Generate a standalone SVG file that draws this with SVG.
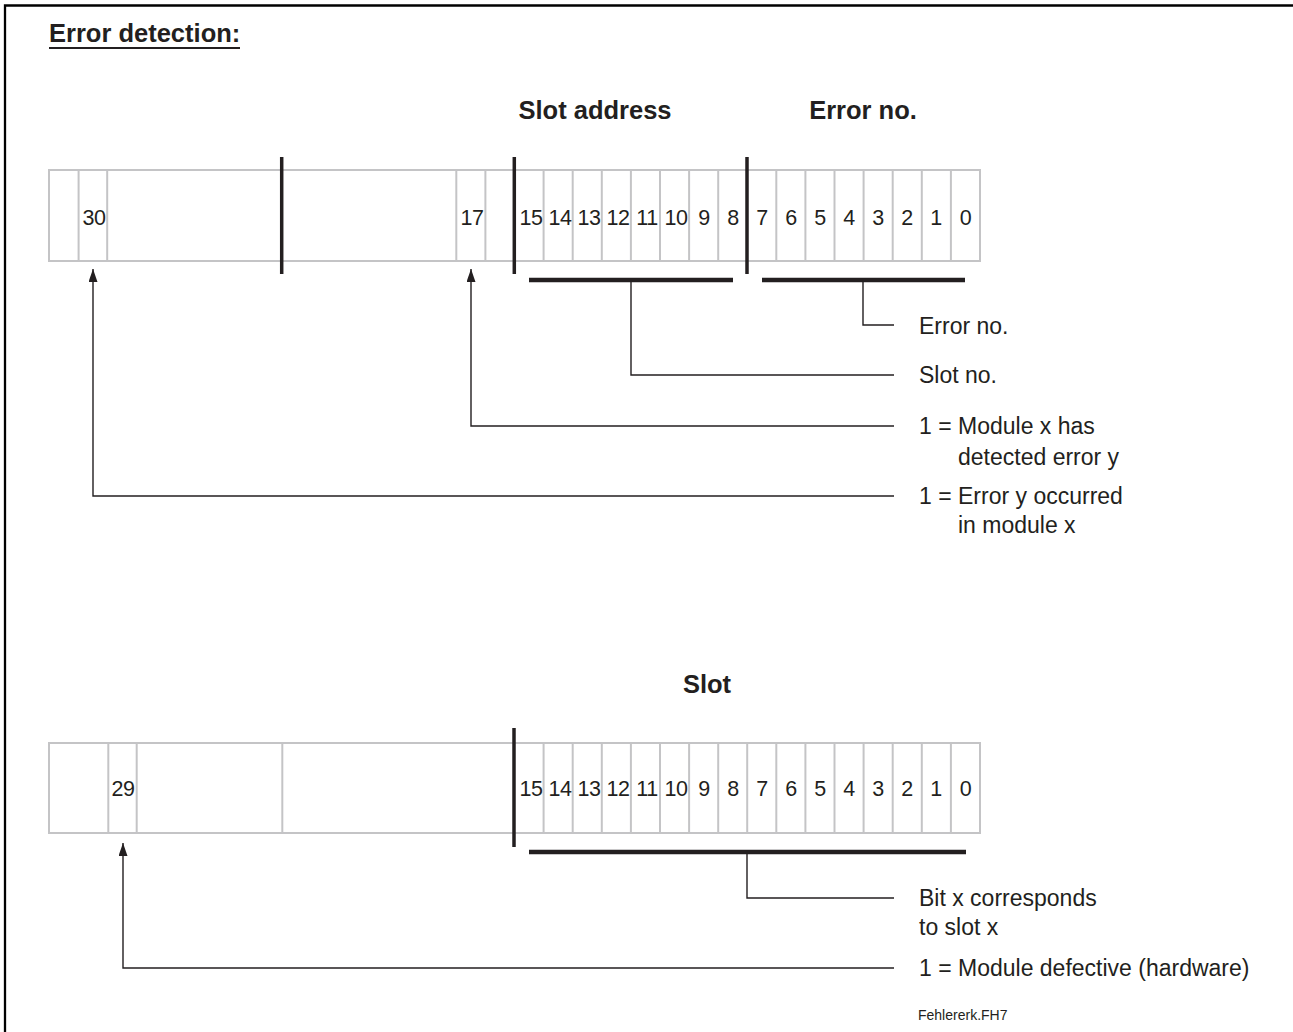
<svg xmlns="http://www.w3.org/2000/svg" width="1293" height="1032" viewBox="0 0 1293 1032">
<style>
  text { font-family: "Liberation Sans", Arial, Helvetica, sans-serif; fill: #231f20; }
  .title { font-size: 25.5px; font-weight: bold; }
  .head { font-size: 25.5px; font-weight: bold; text-anchor: middle; }
  .num { font-size: 21.5px; text-anchor: middle; letter-spacing: -0.5px; }
  .lbl { font-size: 23px; }
  .small { font-size: 14px; }
  .cell { fill: #ffffff; stroke: #c4c4c6; stroke-width: 2; }
  .div { stroke: #c4c4c6; stroke-width: 2; }
  .thick { stroke: #231f20; stroke-width: 3.5; }
  .bar { stroke: #231f20; stroke-width: 4.5; }
  .conn { fill: none; stroke: #231f20; stroke-width: 1.4; }
</style>
<defs>
  <marker id="arr" markerUnits="userSpaceOnUse" markerWidth="13" markerHeight="9" refX="13" refY="4.5" orient="auto">
    <path d="M0,0 L13,4.5 L0,9 z" fill="#231f20"/>
  </marker>
</defs>
<rect width="1293" height="1032" fill="#ffffff"/>
<path d="M5,1032 V5.5 H1293" fill="none" stroke="#000" stroke-width="2.3"/>

<g id="title">
  <text class="title" x="49" y="42">Error detection:</text>
  <line x1="49" y1="48" x2="240" y2="48" stroke="#231f20" stroke-width="2"/>
</g>

<g id="headings">
  <text class="head" x="595" y="119">Slot address</text>
  <text class="head" x="863" y="119">Error no.</text>
  <text class="head" x="707" y="693">Slot</text>
</g>

<g id="register-top">
  <rect class="cell" x="49" y="170" width="931" height="91"/>
  <g class="div">
    <line x1="950.9" y1="170" x2="950.9" y2="261"/>
    <line x1="921.8" y1="170" x2="921.8" y2="261"/>
    <line x1="892.7" y1="170" x2="892.7" y2="261"/>
    <line x1="863.6" y1="170" x2="863.6" y2="261"/>
    <line x1="834.5" y1="170" x2="834.5" y2="261"/>
    <line x1="805.4" y1="170" x2="805.4" y2="261"/>
    <line x1="776.3" y1="170" x2="776.3" y2="261"/>
    <line x1="718.2" y1="170" x2="718.2" y2="261"/>
    <line x1="689.1" y1="170" x2="689.1" y2="261"/>
    <line x1="660.0" y1="170" x2="660.0" y2="261"/>
    <line x1="630.9" y1="170" x2="630.9" y2="261"/>
    <line x1="601.8" y1="170" x2="601.8" y2="261"/>
    <line x1="572.7" y1="170" x2="572.7" y2="261"/>
    <line x1="543.6" y1="170" x2="543.6" y2="261"/>
    <line x1="485.4" y1="170" x2="485.4" y2="261"/>
    <line x1="456.3" y1="170" x2="456.3" y2="261"/>
    <line x1="107.2" y1="170" x2="107.2" y2="261"/>
    <line x1="78.6" y1="170" x2="78.6" y2="261"/>
  </g>
  <g class="thick">
    <line x1="281.7" y1="157" x2="281.7" y2="274"/>
    <line x1="514.3" y1="157" x2="514.3" y2="274"/>
    <line x1="747.0" y1="157" x2="747.0" y2="274"/>
  </g>
  <g class="num">
    <text x="94" y="225">30</text>
    <text x="472" y="225">17</text>
    <text x="531" y="225">15</text>
    <text x="560" y="225">14</text>
    <text x="589" y="225">13</text>
    <text x="618" y="225">12</text>
    <text x="647" y="225">11</text>
    <text x="676" y="225">10</text>
    <text x="704" y="225">9</text>
    <text x="733" y="225">8</text>
    <text x="762" y="225">7</text>
    <text x="791" y="225">6</text>
    <text x="820" y="225">5</text>
    <text x="849" y="225">4</text>
    <text x="878" y="225">3</text>
    <text x="907" y="225">2</text>
    <text x="936" y="225">1</text>
    <text x="965.5" y="225">0</text>
  </g>
</g>

<g id="register-bottom">
  <rect class="cell" x="49" y="743" width="931" height="90"/>
  <g class="div">
    <line x1="950.9" y1="743" x2="950.9" y2="833"/>
    <line x1="921.8" y1="743" x2="921.8" y2="833"/>
    <line x1="892.7" y1="743" x2="892.7" y2="833"/>
    <line x1="863.6" y1="743" x2="863.6" y2="833"/>
    <line x1="834.5" y1="743" x2="834.5" y2="833"/>
    <line x1="805.4" y1="743" x2="805.4" y2="833"/>
    <line x1="776.3" y1="743" x2="776.3" y2="833"/>
    <line x1="747.2" y1="743" x2="747.2" y2="833"/>
    <line x1="718.2" y1="743" x2="718.2" y2="833"/>
    <line x1="689.1" y1="743" x2="689.1" y2="833"/>
    <line x1="660.0" y1="743" x2="660.0" y2="833"/>
    <line x1="630.9" y1="743" x2="630.9" y2="833"/>
    <line x1="601.8" y1="743" x2="601.8" y2="833"/>
    <line x1="572.7" y1="743" x2="572.7" y2="833"/>
    <line x1="543.6" y1="743" x2="543.6" y2="833"/>
    <line x1="282.3" y1="743" x2="282.3" y2="833"/>
    <line x1="136.7" y1="743" x2="136.7" y2="833"/>
    <line x1="108.3" y1="743" x2="108.3" y2="833"/>
  </g>
  <line class="thick" x1="514" y1="728" x2="514" y2="847"/>
  <g class="num">
    <text x="123" y="796">29</text>
    <text x="531" y="796">15</text>
    <text x="560" y="796">14</text>
    <text x="589" y="796">13</text>
    <text x="618" y="796">12</text>
    <text x="647" y="796">11</text>
    <text x="676" y="796">10</text>
    <text x="704" y="796">9</text>
    <text x="733" y="796">8</text>
    <text x="762" y="796">7</text>
    <text x="791" y="796">6</text>
    <text x="820" y="796">5</text>
    <text x="849" y="796">4</text>
    <text x="878" y="796">3</text>
    <text x="907" y="796">2</text>
    <text x="936" y="796">1</text>
    <text x="965.5" y="796">0</text>
  </g>
</g>

<g id="connectors">
  <line class="bar" x1="529" y1="280" x2="733" y2="280"/>
  <line class="bar" x1="762" y1="280" x2="965" y2="280"/>
  <line class="bar" x1="529" y1="852" x2="966" y2="852"/>
  <path class="conn" d="M863,282 V325 H894"/>
  <path class="conn" d="M631,282 V375 H894"/>
  <path class="conn" d="M894,426 H471 V269" marker-end="url(#arr)"/>
  <path class="conn" d="M894,496 H93 V269" marker-end="url(#arr)"/>
  <path class="conn" d="M747,854 V898 H894"/>
  <path class="conn" d="M894,968 H123 V843" marker-end="url(#arr)"/>
</g>

<g id="labels">
  <text class="lbl" x="919" y="334">Error no.</text>
  <text class="lbl" x="919" y="383">Slot no.</text>
  <text class="lbl" x="919" y="434">1 = Module x has</text>
  <text class="lbl" x="958" y="465">detected error y</text>
  <text class="lbl" x="919" y="504">1 = Error y occurred</text>
  <text class="lbl" x="958" y="533">in module x</text>
  <text class="lbl" x="919" y="906">Bit x corresponds</text>
  <text class="lbl" x="919" y="935">to slot x</text>
  <text class="lbl" x="919" y="976">1 = Module defective (hardware)</text>
  <text class="small" x="918" y="1020">Fehlererk.FH7</text>
</g>
</svg>
